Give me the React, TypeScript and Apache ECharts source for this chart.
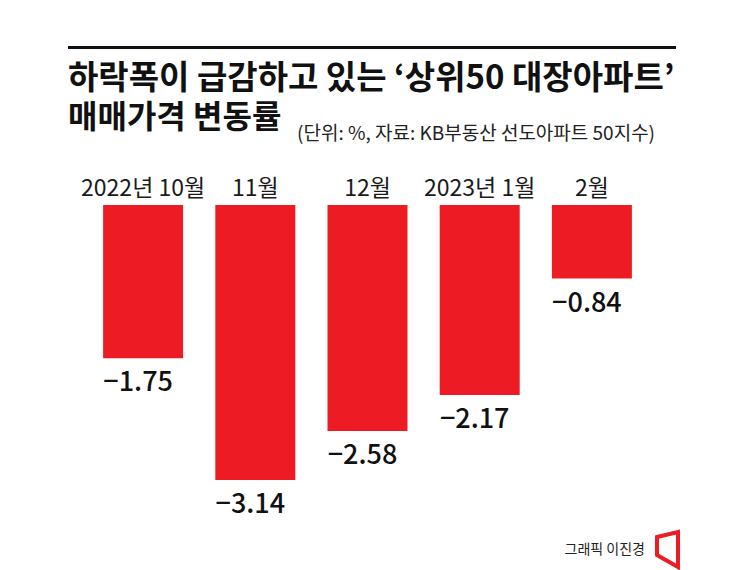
import React, { useEffect, useRef } from "react";
import * as echarts from "echarts";

const categories = ["2022년 10월", "11월", "12월", "2023년 1월", "2월"];
const values = [-1.75, -3.14, -2.58, -2.17, -0.84];
const titleLine1 = "하락폭이 급감하고 있는 ‘상위50 대장아파트’";
const titleLine2 = "매매가격 변동률";
const subtitle = "(단위: %, 자료: KB부동산 선도아파트 50지수)";
const credit = "그래픽 이진경";

const FONT = "'Noto Sans CJK KR', 'Noto Sans', sans-serif";
const RED = "#ED1C24";

export default function App() {
  const ref = useRef<HTMLDivElement>(null);
  useEffect(() => {
    if (!ref.current) return;
    const chart = echarts.init(ref.current, null, { renderer: "svg" });
    chart.setOption({
      animation: false,
      backgroundColor: "#ffffff",
      textStyle: { fontFamily: FONT },
      grid: { left: 87, width: 561, top: 205, height: 306.6, containLabel: false },
      xAxis: {
        type: "category",
        position: "top",
        data: categories,
        axisLine: { show: false },
        axisTick: { show: false },
        axisLabel: { color: "#1a1a1a", fontSize: 23, fontFamily: FONT, margin: 8, interval: 0 },
      },
      yAxis: {
        type: "value",
        min: -3.5,
        max: 0,
        show: false,
        splitLine: { show: false },
      },
      series: [
        {
          type: "bar",
          data: values,
          barWidth: 80,
          itemStyle: { color: RED },
          label: {
            show: true,
            position: "bottom",
            distance: 8,
            offset: [-5, 0],
            color: "#111",
            fontSize: 27,
            fontWeight: 500,
            fontFamily: FONT,
            formatter: (p: any) => String(p.value).replace("-", "−"),
          },
        },
      ],
      graphic: [
        { type: "rect", shape: { x: 68, y: 46, width: 608, height: 3 }, style: { fill: "#111" } },
        {
          type: "text",
          x: 68,
          y: 75,
          style: { text: titleLine1, font: `bold 33px ${FONT}`, lineHeight: 33, fill: "#111", textVerticalAlign: "middle" },
        },
        {
          type: "text",
          x: 68,
          y: 114,
          style: { text: titleLine2, font: `bold 32px ${FONT}`, lineHeight: 32, fill: "#111", textVerticalAlign: "middle" },
        },
        {
          type: "text",
          x: 297,
          y: 131,
          style: { text: subtitle, font: `19px ${FONT}`, fill: "#222", textVerticalAlign: "middle" },
        },
        {
          type: "text",
          x: 645,
          y: 548,
          style: { text: credit, font: `14px ${FONT}`, fill: "#222", textAlign: "right", textVerticalAlign: "middle" },
        },
        {
          type: "polygon",
          shape: { points: [[657, 537], [678, 532], [678, 567], [657, 555]] },
          style: { fill: "none", stroke: RED, lineWidth: 4, lineJoin: "miter" },
        },
      ],
    });
    return () => chart.dispose();
  }, []);
  return <div ref={ref} style={{ position: "fixed", left: 0, top: 0, width: 745, height: 570 }} />;
}
